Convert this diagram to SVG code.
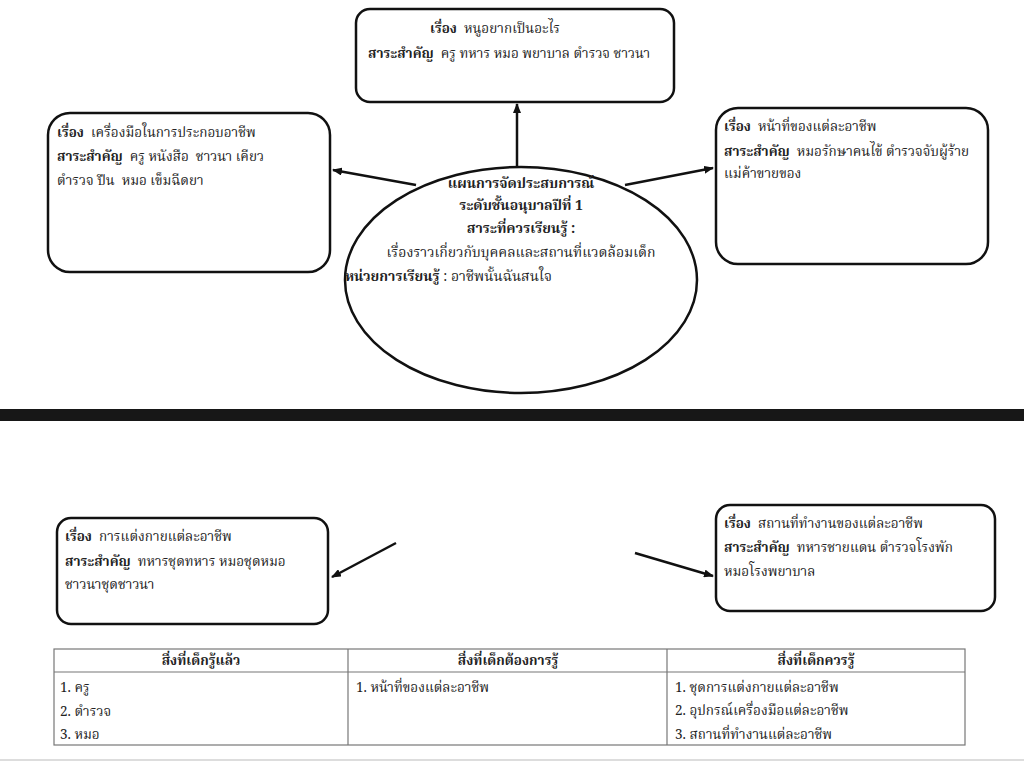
<svg xmlns="http://www.w3.org/2000/svg" width="1024" height="761" viewBox="0 0 1024 761">
<defs>
<marker id="ah" markerWidth="10" markerHeight="8" refX="9" refY="4" orient="auto" markerUnits="userSpaceOnUse">
<path d="M0,0 L10,4 L0,8 Z" fill="#111"/>
</marker>
<style>
.box{fill:#fff;stroke:#111;stroke-width:2.5}
.t{font-family:"Noto Serif Thai","Noto Sans Thai","Loma","Tlwg Typo","DejaVu Sans","Liberation Serif",serif;font-size:13.5px;fill:#222;white-space:pre}
.e{font-size:14px}
.b{font-weight:bold}
.c{text-anchor:middle}
.conn{stroke:#111;stroke-width:2.5;fill:none;marker-end:url(#ah)}
.tbl{stroke:#777;stroke-width:1.2;fill:none}
</style>
</defs>
<rect x="0" y="0" width="1024" height="761" fill="#fff"/>
<rect x="0" y="409" width="1024" height="12" fill="#171717"/>
<rect x="0" y="759" width="1024" height="2" fill="#ddd"/>

<g id="connectors">
<line class="conn" x1="517" y1="167" x2="517" y2="104"/>
<line class="conn" x1="416" y1="185" x2="333" y2="170"/>
<line class="conn" x1="625" y1="185" x2="713" y2="168"/>
<line class="conn" x1="396" y1="543" x2="332" y2="577"/>
<line class="conn" x1="635" y1="553" x2="713" y2="576"/>
</g>

<g id="center">
<ellipse class="box" cx="521" cy="280" rx="176" ry="113"/>
<text class="t e b c" x="521" y="188">แผนการจัดประสบการณ์</text>
<text class="t e b c" x="521" y="210">ระดับชั้นอนุบาลปีที่ 1</text>
<text class="t e b c" x="521" y="233">สาระที่ควรเรียนรู้ :</text>
<text class="t e c" x="521" y="257">เรื่องราวเกี่ยวกับบุคคลและสถานที่แวดล้อมเด็ก</text>
<text class="t e" x="345" y="281"><tspan class="b">หน่วยการเรียนรู้</tspan> : อาชีพนั้นฉันสนใจ</text>
</g>

<g id="top">
<rect class="box" x="356" y="9" width="318" height="93" rx="14"/>
<text class="t" x="430" y="33"><tspan class="b">เรื่อง</tspan>  หนูอยากเป็นอะไร</text>
<text class="t" x="368" y="58"><tspan class="b">สาระสำคัญ</tspan>  ครู ทหาร หมอ พยาบาล ตำรวจ ชาวนา</text>
</g>

<g id="left">
<rect class="box" x="48" y="113" width="282" height="159" rx="22"/>
<text class="t" x="57" y="137"><tspan class="b">เรื่อง</tspan>  เครื่องมือในการประกอบอาชีพ</text>
<text class="t" x="57" y="161"><tspan class="b">สาระสำคัญ</tspan>  ครู หนังสือ  ชาวนา เคียว</text>
<text class="t" x="57" y="185">ตำรวจ ปืน  หมอ เข็มฉีดยา</text>
</g>

<g id="right">
<rect class="box" x="716" y="108" width="272" height="156" rx="22"/>
<text class="t" x="724" y="131"><tspan class="b">เรื่อง</tspan>  หน้าที่ของแต่ละอาชีพ</text>
<text class="t" x="724" y="156"><tspan class="b">สาระสำคัญ</tspan>  หมอรักษาคนไข้ ตำรวจจับผู้ร้าย</text>
<text class="t" x="724" y="178">แม่ค้าขายของ</text>
</g>

<g id="bottom-left">
<rect class="box" x="57" y="518" width="271" height="106" rx="14"/>
<text class="t" x="65" y="541"><tspan class="b">เรื่อง</tspan>  การแต่งกายแต่ละอาชีพ</text>
<text class="t" x="65" y="566"><tspan class="b">สาระสำคัญ</tspan>  ทหารชุดทหาร หมอชุดหมอ</text>
<text class="t" x="65" y="589">ชาวนาชุดชาวนา</text>
</g>

<g id="bottom-right">
<rect class="box" x="716" y="505" width="279" height="106" rx="14"/>
<text class="t" x="724" y="528"><tspan class="b">เรื่อง</tspan>  สถานที่ทำงานของแต่ละอาชีพ</text>
<text class="t" x="724" y="552"><tspan class="b">สาระสำคัญ</tspan>  ทหารชายแดน ตำรวจโรงพัก</text>
<text class="t" x="724" y="576">หมอโรงพยาบาล</text>
</g>

<g id="table">
<rect class="tbl" x="54" y="649" width="911" height="96"/>
<line class="tbl" x1="54" y1="672" x2="965" y2="672"/>
<line class="tbl" x1="348" y1="649" x2="348" y2="745"/>
<line class="tbl" x1="667" y1="649" x2="667" y2="745"/>
<text class="t b c" x="201" y="665">สิ่งที่เด็กรู้แล้ว</text>
<text class="t b c" x="508" y="665">สิ่งที่เด็กต้องการรู้</text>
<text class="t b c" x="816" y="665">สิ่งที่เด็กควรรู้</text>
<text class="t" x="60" y="692">1. ครู</text>
<text class="t" x="60" y="716">2. ตำรวจ</text>
<text class="t" x="60" y="739">3. หมอ</text>
<text class="t" x="356" y="692">1. หน้าที่ของแต่ละอาชีพ</text>
<text class="t" x="675" y="692">1. ชุดการแต่งกายแต่ละอาชีพ</text>
<text class="t" x="675" y="715">2. อุปกรณ์เครื่องมือแต่ละอาชีพ</text>
<text class="t" x="675" y="739">3. สถานที่ทำงานแต่ละอาชีพ</text>
</g>
</svg>
